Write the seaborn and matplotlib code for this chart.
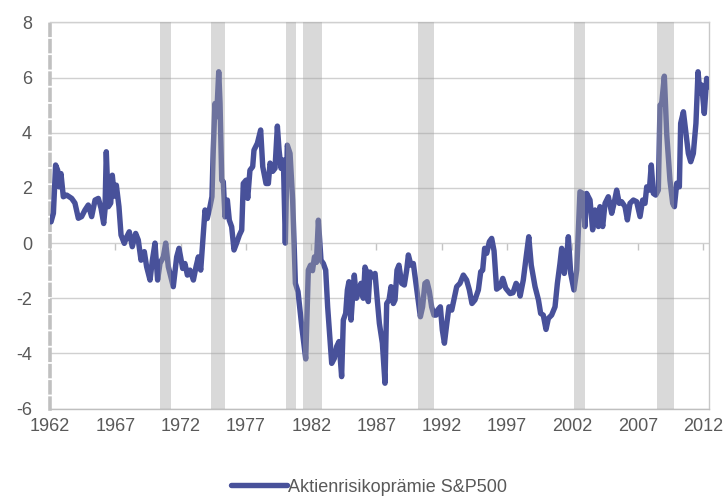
import matplotlib
matplotlib.use("Agg")
import matplotlib.pyplot as plt
import numpy as np
import pandas as pd
import seaborn as sns

# ---------------- data ----------------
years = [
    1962.08, 1962.26, 1962.43, 1962.59, 1962.69, 1962.84, 1963.02, 1963.28, 1963.66, 1963.91,
    1964.17, 1964.42, 1964.68, 1964.93, 1965.19, 1965.45, 1965.70, 1965.91, 1966.11, 1966.21,
    1966.31, 1966.47, 1966.65, 1966.77, 1966.93, 1967.08, 1967.28, 1967.44, 1967.69, 1967.87,
    1968.07, 1968.30, 1968.56, 1968.76, 1968.97, 1969.22, 1969.40, 1969.66, 1969.84, 1970.04,
    1970.24, 1970.42, 1970.68, 1970.86, 1971.06, 1971.44, 1971.70, 1971.88,
    1972.16, 1972.33, 1972.52, 1972.72, 1972.98, 1973.18, 1973.36, 1973.54, 1973.69, 1973.87,
    1974.04, 1974.25, 1974.40, 1974.50, 1974.63, 1974.76, 1974.92, 1975.02, 1975.15, 1975.27,
    1975.40, 1975.58, 1975.73, 1975.91, 1976.09, 1976.29, 1976.50, 1976.68, 1976.80, 1977.01,
    1977.14, 1977.31, 1977.52, 1977.62, 1977.88, 1978.13, 1978.29, 1978.54, 1978.72, 1978.85,
    1979.05, 1979.23, 1979.41, 1979.54, 1979.69, 1979.87, 1980.02, 1980.17, 1980.38, 1980.58,
    1980.79, 1980.99, 1981.28, 1981.58, 1981.78, 1981.95, 1982.10, 1982.25, 1982.40, 1982.55,
    1982.75, 1982.93, 1983.11, 1983.26, 1983.44, 1983.57, 1983.77, 1983.95, 1984.13, 1984.33,
    1984.46, 1984.64, 1984.77, 1984.89, 1985.05, 1985.17, 1985.30, 1985.46, 1985.61, 1985.81,
    1985.99, 1986.12, 1986.25, 1986.37, 1986.50, 1986.68, 1986.89, 1987.06, 1987.22, 1987.45,
    1987.65, 1987.78, 1987.96, 1988.11, 1988.29, 1988.42, 1988.57, 1988.72, 1988.93, 1989.13,
    1989.31, 1989.44, 1989.64, 1989.82, 1990.02, 1990.20, 1990.36, 1990.53, 1990.71, 1990.87,
    1991.05, 1991.22, 1991.40, 1991.56, 1991.68, 1991.89, 1992.04, 1992.20, 1992.37, 1992.55,
    1992.76, 1993.14, 1993.39, 1993.65, 1993.90, 1994.11, 1994.31, 1994.54, 1994.80, 1994.98,
    1995.13, 1995.28, 1995.44, 1995.64, 1995.82, 1996.00, 1996.20, 1996.46, 1996.67, 1996.90,
    1997.23, 1997.45, 1997.69, 1997.87, 1998.00, 1998.24, 1998.46, 1998.66, 1998.85, 1999.14,
    1999.40, 1999.57, 1999.77, 1999.98, 2000.16, 2000.41, 2000.67, 2000.85, 2001.05, 2001.18,
    2001.38, 2001.56, 2001.69, 2001.87, 2002.12, 2002.33, 2002.46, 2002.58, 2002.79, 2002.96,
    2003.09, 2003.35, 2003.55, 2003.73, 2003.99, 2004.11, 2004.32, 2004.50, 2004.75, 2005.01,
    2005.19, 2005.39, 2005.59, 2005.77, 2006.03, 2006.21, 2006.41, 2006.67, 2006.92, 2007.18,
    2007.38, 2007.56, 2007.69, 2007.89, 2008.04, 2008.20, 2008.38, 2008.58, 2008.71, 2008.84,
    2009.04, 2009.22, 2009.47, 2009.68, 2009.81, 2009.99, 2010.19, 2010.29, 2010.50, 2010.70,
    2010.88, 2011.06, 2011.26, 2011.46, 2011.62, 2011.77, 2011.90, 2012.10, 2012.28, 2012.44,
]
values = [
    0.77, 1.08, 2.83, 2.64, 2.04, 2.52, 1.68, 1.74, 1.62, 1.45,
    0.90, 0.96, 1.20, 1.38, 0.96, 1.56, 1.62, 1.26, 0.71, 1.20,
    3.31, 1.32, 1.45, 2.46, 1.70, 2.10, 1.32, 0.29, -0.01, 0.22,
    0.41, -0.13, 0.35, 0.11, -0.62, -0.31, -0.86, -1.34, -0.62, 0.00,
    -1.34, -0.74, -0.50, 0.00, -0.86, -1.58, -0.50, -0.19,
    -0.92, -0.74, -1.16, -0.98, -1.34, -0.86, -0.50, -0.98, -0.01, 1.20,
    0.89, 1.32, 1.68, 3.37, 5.06, 4.58, 6.21, 5.06, 2.28, 2.22,
    0.95, 1.56, 0.83, 0.59, -0.25, 0.00, 0.29, 0.47, 2.16, 2.28,
    1.62, 2.64, 2.77, 3.37, 3.62, 4.10, 2.77, 2.16, 2.16, 2.90,
    2.60, 2.71, 4.24, 3.37, 2.71, 3.01, 0.00, 3.55, 3.25, 1.56,
    -1.46, -1.76, -3.03, -4.20, -0.98, -0.80, -1.00, -0.50, -0.70, 0.83,
    -0.62, -0.74, -0.98, -2.31, -3.51, -4.36, -4.18, -3.75, -3.57, -4.84,
    -2.79, -2.55, -1.70, -1.40, -2.79, -1.95, -1.16, -2.00, -1.80, -1.46,
    -2.00, -0.87, -1.05, -2.12, -1.05, -1.22, -1.10, -2.06, -2.91, -3.63,
    -5.08, -2.19, -2.06, -1.58, -2.19, -2.06, -0.98, -0.80, -1.46, -1.52,
    -0.98, -0.43, -0.80, -0.74, -1.46, -2.12, -2.67, -2.31, -1.46, -1.40,
    -1.76, -2.31, -2.61, -2.61, -2.43, -2.31, -3.15, -3.63, -2.97, -2.31,
    -2.43, -1.58, -1.46, -1.16, -1.34, -1.70, -2.19, -2.06, -1.70, -1.04,
    -0.98, -0.19, -0.37, 0.05, 0.17, -0.28, -1.67, -1.58, -1.28, -1.64,
    -1.83, -1.80, -1.46, -1.58, -1.92, -1.34, -0.50, 0.23, -0.80, -1.58,
    -2.06, -2.55, -2.61, -3.13, -2.73, -2.61, -2.31, -1.46, -0.74, -0.19,
    -1.10, -0.49, 0.23, -1.10, -1.70, -0.98, 0.47, 1.86, 1.80, 0.60,
    1.80, 1.56, 0.48, 1.20, 0.60, 1.32, 0.60, 1.44, 1.68, 1.08,
    1.44, 1.92, 1.44, 1.50, 1.32, 0.84, 1.44, 1.56, 1.50, 0.96,
    1.56, 1.44, 2.04, 1.92, 2.83, 1.80, 1.74, 1.92, 5.00, 5.07,
    6.05, 3.97, 2.28, 1.44, 1.32, 2.17, 2.04, 4.34, 4.76, 3.97,
    3.25, 2.95, 3.25, 4.34, 6.21, 5.43, 5.73, 4.70, 5.97, 5.67,
]
recession_starts = [1970.42, 1974.33, 1980.07, 1981.37, 1990.18, 2002.12, 2008.48]
recession_ends = [1971.26, 1975.40, 1980.81, 1982.80, 1991.38, 2002.97, 2009.76]
xtick_years = [1962, 1967, 1972, 1977, 1982, 1987, 1992, 1997, 2002, 2007, 2012]
ytick_values = [-6, -4, -2, 0, 2, 4, 6, 8]
series_label = "Aktienrisikoprämie S&P500"

# ---------------- style ----------------
sns.set_style("white")
plt.rcParams["font.family"] = ["Liberation Sans", "DejaVu Sans"]
plt.rcParams["axes.unicode_minus"] = False

text_color = "#595959"
line_color = "#48519a"
grid_color = "#d0d0d0"

fig = plt.figure(figsize=(7.26, 4.97), dpi=100)
W, H = 726, 497
left, right, top, bottom = 50, 709, 22.4, 408.6
ax = fig.add_axes([left / W, 1 - bottom / H, (right - left) / W, (bottom - top) / H])

df = pd.DataFrame({"Jahr": years[:len(values)], "Wert": values})
sns.lineplot(data=df, x="Jahr", y="Wert", ax=ax, color=line_color, linewidth=3.9,
             estimator=None, legend=False, zorder=3)
line = ax.lines[0]
line.set_solid_joinstyle("round")
line.set_solid_capstyle("round")

for s, e in zip(recession_starts, recession_ends):
    ax.axvspan(s, e, color=(0.643, 0.643, 0.643), alpha=0.415, lw=0, zorder=4)

ax.set_xlim(1962, 2012.46)
ax.set_ylim(-6, 8)
ax.set_xticks(xtick_years)
ax.set_xticklabels([str(y) for y in xtick_years])
ax.set_yticks(ytick_values)
ax.set_yticklabels([str(v) for v in ytick_values])
ax.set_xlabel("")
ax.set_ylabel("")

ax.yaxis.grid(True, color=grid_color, lw=1)
ax.xaxis.grid(False)
ax.set_axisbelow(True)

ax.tick_params(axis="x", length=0, pad=7, labelsize=13, labelcolor=text_color)
ax.tick_params(axis="y", length=4, width=2.4, color="#c0c0c0", pad=9,
               labelsize=13, labelcolor=text_color)

for side in ["top", "right", "bottom"]:
    ax.spines[side].set_visible(True)
    ax.spines[side].set_linewidth(1)
ax.spines["top"].set_color(grid_color)
ax.spines["right"].set_color("#c8c8c8")
ax.spines["bottom"].set_color("#bfbfbf")
ax.spines["left"].set_color("#c0c0c0")
ax.spines["left"].set_linewidth(2.6)
ax.spines["left"].set_linestyle((0, (3.0, 1.5)))

# category axis crossing at zero with tick marks
sec = ax.secondary_xaxis(6 / 14)
sec.set_xticks(xtick_years)
sec.tick_params(axis="x", direction="out", length=5, width=1, color="#c4c4c4",
                labelbottom=False, labeltop=False)
for sp in sec.spines.values():
    sp.set_visible(False)

fig.legend([line], [series_label], loc="center", bbox_to_anchor=(0.508, 0.02),
           frameon=False, fontsize=13, handlelength=3.1, handletextpad=0.05,
           labelcolor=text_color)

fig.savefig("out.png", dpi=100)
